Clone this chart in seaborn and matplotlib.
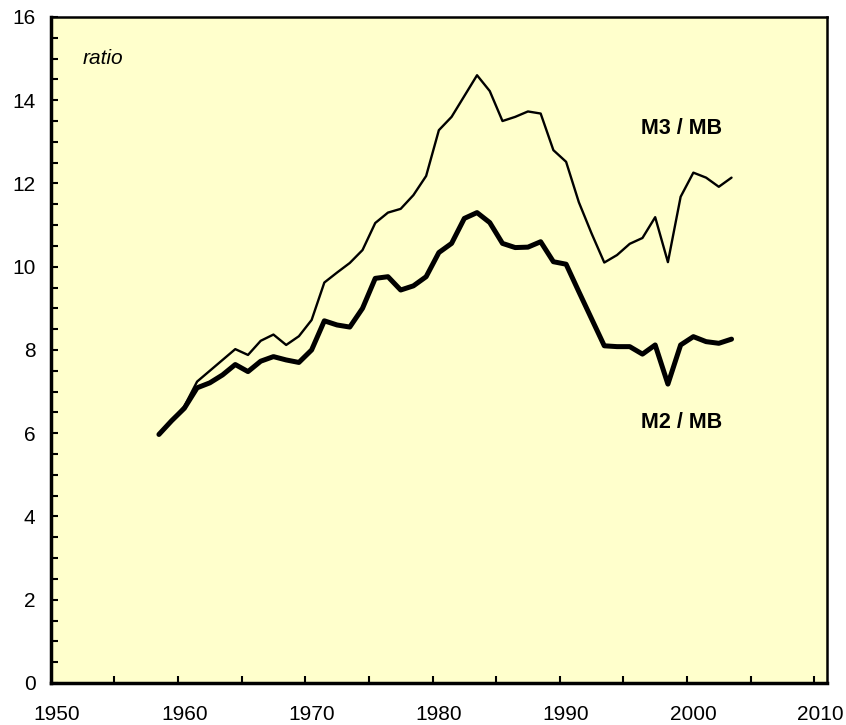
import matplotlib
matplotlib.use("Agg")
from matplotlib import ticker
import matplotlib.pyplot as plt
import seaborn as sns
import pandas as pd
import numpy as np

# ------------------------------------------------------------------
# Data
# ------------------------------------------------------------------
years = list(range(1958, 2004))

m2_mb = [5.97, 6.30, 6.60, 7.09, 7.21, 7.40, 7.65, 7.48, 7.73, 7.84,
         7.76, 7.70, 8.00, 8.70, 8.60, 8.55, 9.00, 9.72, 9.76, 9.44,
         9.54, 9.76, 10.34, 10.56, 11.16, 11.30, 11.06, 10.56, 10.46, 10.47,
         10.60, 10.12, 10.06, 9.40, 8.75, 8.10, 8.08, 8.08, 7.90, 8.12,
         7.18, 8.12, 8.32, 8.20, 8.16, 8.26]

m3_mb = [5.97, 6.30, 6.65, 7.24, 7.50, 7.76, 8.02, 7.88, 8.22, 8.37,
         8.12, 8.33, 8.72, 9.62, 9.86, 10.09, 10.40, 11.05, 11.30, 11.39,
         11.72, 12.18, 13.28, 13.60, 14.10, 14.60, 14.22, 13.50, 13.60, 13.73,
         13.68, 12.80, 12.52, 11.55, 10.80, 10.10, 10.28, 10.55, 10.69, 11.19,
         10.11, 11.68, 12.26, 12.14, 11.92, 12.14]

x_labels = [1950, 1960, 1970, 1980, 1990, 2000, 2010]

df = pd.DataFrame({"year": years, "M2 / MB": m2_mb, "M3 / MB": m3_mb})

# ------------------------------------------------------------------
# Plot
# ------------------------------------------------------------------
sns.set_theme(style="white")
plt.rcParams["font.family"] = ["Liberation Sans", "DejaVu Sans"]
plt.rcParams["text.color"] = "black"

fig = plt.figure(figsize=(8.46, 7.25), dpi=100)
ax = fig.add_axes([0.06, 0.058, 0.9175, 0.9186])
ax.set_facecolor("#FFFFCC")

sns.lineplot(data=df, x="year", y="M3 / MB", color="black", linewidth=1.7, ax=ax)
sns.lineplot(data=df, x="year", y="M2 / MB", color="black", linewidth=3.6, ax=ax)

# annual values sit in the middle of each year slot (category-style axis)
ax.set_xlim(1949.5, 2010.5)
ax.set_ylim(0, 16)

# x: labels at the year, tick marks on slot boundaries every 5 years
ax.xaxis.set_major_locator(ticker.FixedLocator(x_labels))
ax.xaxis.set_major_formatter(ticker.FixedFormatter([str(v) for v in x_labels]))
ax.xaxis.set_minor_locator(ticker.FixedLocator(np.arange(1954.5, 2010, 5)))
ax.tick_params(axis="x", which="major", length=0, pad=16, labelsize=15, labelcolor="black")
ax.tick_params(axis="x", which="minor", direction="in", length=5, width=1.5, color="black", bottom=True)

ax.yaxis.set_major_locator(ticker.MultipleLocator(2))
ax.yaxis.set_minor_locator(ticker.MultipleLocator(0.5))
ax.tick_params(axis="y", which="both", direction="in", length=5, width=1.5, color="black", left=True)
ax.tick_params(axis="y", which="major", pad=11, labelsize=15, labelcolor="black")

for side in ["left", "bottom"]:
    ax.spines[side].set_linewidth(2.5)
for side in ["top", "right"]:
    ax.spines[side].set_linewidth(1.8)
for s in ax.spines.values():
    s.set_color("black")

ax.set_xlabel("")
ax.set_ylabel("")

ax.text(1952.0, 15.0, "ratio", fontsize=15, style="italic", va="center", ha="left", color="black")
ax.text(1999.1, 13.33, "M3 / MB", fontsize=15.5, fontweight="bold", va="center", ha="center", color="black")
ax.text(1999.1, 6.25, "M2 / MB", fontsize=15.5, fontweight="bold", va="center", ha="center", color="black")

fig.savefig("out.png", dpi=100)
